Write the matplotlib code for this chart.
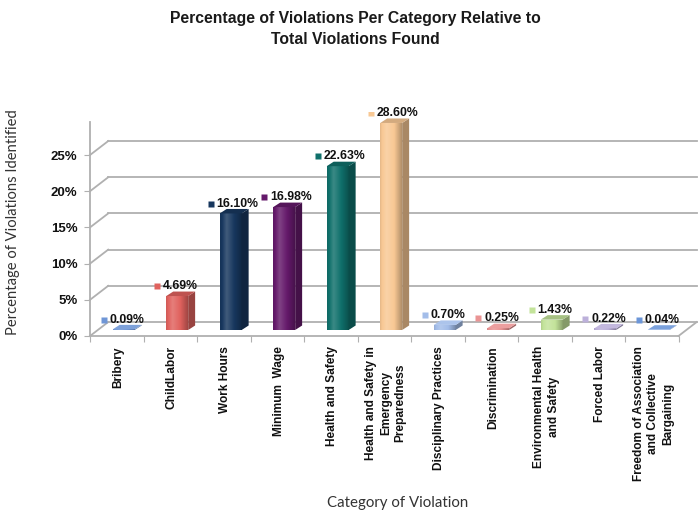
import numpy as np
import matplotlib.pyplot as plt
from matplotlib.patches import Polygon
from matplotlib.colors import to_rgb
from matplotlib.ticker import FuncFormatter

# ------------------------------------------------------------
# Data
# ------------------------------------------------------------
categories = [
    'Bribery', 'ChildLabor', 'Work Hours', 'Minimum  Wage', 'Health and Safety',
    'Health and Safety in\nEmergency\nPreparedness', 'Disciplinary Practices',
    'Discrimination', 'Environmental Health\nand Safety', 'Forced Labor',
    'Freedom of Association\nand Collective\nBargaining',
]
percentages = [0.09, 4.69, 16.10, 16.98, 22.63, 28.60, 0.70, 0.25, 1.43, 0.22, 0.04]
bar_colors = ['#6f96d6', '#e0625e', '#17375e', '#64196a', '#0f706b', '#f8c894',
              '#a3bde9', '#ea9494', '#c3e39a', '#bcb0da', '#6c96d8']
y_ticks = [0, 5, 10, 15, 20, 25]

# ------------------------------------------------------------
# Pseudo-3D geometry (data units)
# ------------------------------------------------------------
DX, DY = 0.34, 1.93        # depth of floor / walls
BW = 0.41                  # bar front width
BDX, BDY = 0.13, 0.62      # bar depth
OX, OY = 0.13, 0.83        # bars sit half-way back on the floor
WALL_TOP = 29.5
GRID = '#b0b0b0'

plt.rcParams['font.family'] = ['Liberation Sans', 'DejaVu Sans']

fig = plt.figure(figsize=(6.99, 5.14), dpi=100)
ax = fig.add_axes([90 / 699, 178 / 514, 588.5 / 699, 224.4 / 514])
n = len(categories)
x = np.arange(n)
xl, xr = -0.5, n - 0.5


def shade(c, f):
    return tuple(np.clip(np.array(c) * f, 0, 1))


def tint(c, f):
    c = np.array(c)
    return tuple(c + (1 - c) * f)


# back wall, left wall and floor
for t in y_ticks:
    ax.plot([xl + DX, xr + DX], [t + DY, t + DY], color=GRID, lw=1.3, clip_on=False, zorder=1)
    ax.plot([xl, xl + DX], [t, t + DY], color=GRID, lw=1.3, clip_on=False, zorder=1)
ax.plot([xr, xr + DX], [0, DY], color=GRID, lw=1.3, clip_on=False, zorder=1)

# bars: gradient front face, darker side, lighter top
x0 = x + OX - BW / 2
bars = ax.bar(x0, percentages, width=BW, bottom=OY, align='edge',
              color=bar_colors, linewidth=0, zorder=3)
grad_t = np.linspace(0, 1, 64)
for rect, left, v, col in zip(bars, x0, percentages, bar_colors):
    c = np.array(to_rgb(col))
    prof = np.interp(grad_t, [0, 0.3, 0.65, 1], [0.92, 1.18, 1.0, 0.72])
    img = np.array([[tint(c, p - 1) if p > 1 else shade(c, p) for p in prof]])
    im = ax.imshow(img, extent=[left, left + BW, OY, OY + v], aspect='auto',
                   interpolation='bilinear', zorder=4)
    im.set_clip_path(rect)
    side = Polygon([(left + BW, OY), (left + BW + BDX, OY + BDY),
                    (left + BW + BDX, OY + v + BDY), (left + BW, OY + v)],
                   closed=True, color=shade(c, 0.68), lw=0, zorder=4)
    top = Polygon([(left, OY + v), (left + BW, OY + v),
                   (left + BW + BDX, OY + v + BDY), (left + BDX, OY + v + BDY)],
                  closed=True, color=shade(c, 0.85) if v > 1 else tint(c, 0.1),
                  lw=0, zorder=4)
    ax.add_patch(side)
    ax.add_patch(top)

    # value label with a small colour key in front of it
    ly = OY + v + 1.35
    ax.plot(left - 0.17, ly, marker='s', ms=4, color=col, mec='none', zorder=5)
    ax.text(left - 0.06, ly, f'{v:.2f}%', ha='left', va='center',
            fontsize=8.8, fontweight='bold', color='#111111', zorder=5)

# axes cosmetics
ax.set_xlim(xl, xr)
ax.set_ylim(0, 31)
for s in ['top', 'right']:
    ax.spines[s].set_visible(False)
ax.spines['left'].set_bounds(0, WALL_TOP)
ax.spines['left'].set_color(GRID)
ax.spines['left'].set_linewidth(1.3)
ax.spines['bottom'].set_color(GRID)
ax.spines['bottom'].set_linewidth(1.3)
ax.set_yticks(y_ticks)
ax.yaxis.set_major_formatter(FuncFormatter(lambda v, p: f'{v:.0f}%'))
ax.tick_params(axis='y', length=4, color=GRID, pad=5, labelsize=9.5)
for lab in ax.get_yticklabels():
    lab.set_fontweight('bold')
    lab.set_color('#111111')
ax.set_xticks(np.arange(n + 1) - 0.5)
ax.set_xticklabels([])
ax.tick_params(axis='x', length=4, color=GRID)

# category labels under each slot
for i, name in enumerate(categories):
    ax.text(x[i] + 0.03, -1.4, name, rotation=90, ha='center', va='top',
            multialignment='center', fontsize=8.6, fontweight='bold',
            linespacing=1.27, color='#111111')

fig.text(355 / 699, 1 - 11 / 514,
         'Percentage of Violations Per Category Relative to\nTotal Violations Found',
         ha='center', va='top', fontsize=11.3, fontweight='bold', color='#1a1a1a',
         linespacing=1.5)
fig.text(13 / 699, 1 - 222 / 514, 'Percentage of Violations Identified', rotation=90,
         ha='center', va='center', fontsize=10.6, family='Lato', color='#333333')
fig.text(398 / 699, 1 - 503 / 514, 'Category of Violation', ha='center', va='center',
         fontsize=10.8, family='Lato', color='#333333')

fig.savefig('out.png', dpi=100)
